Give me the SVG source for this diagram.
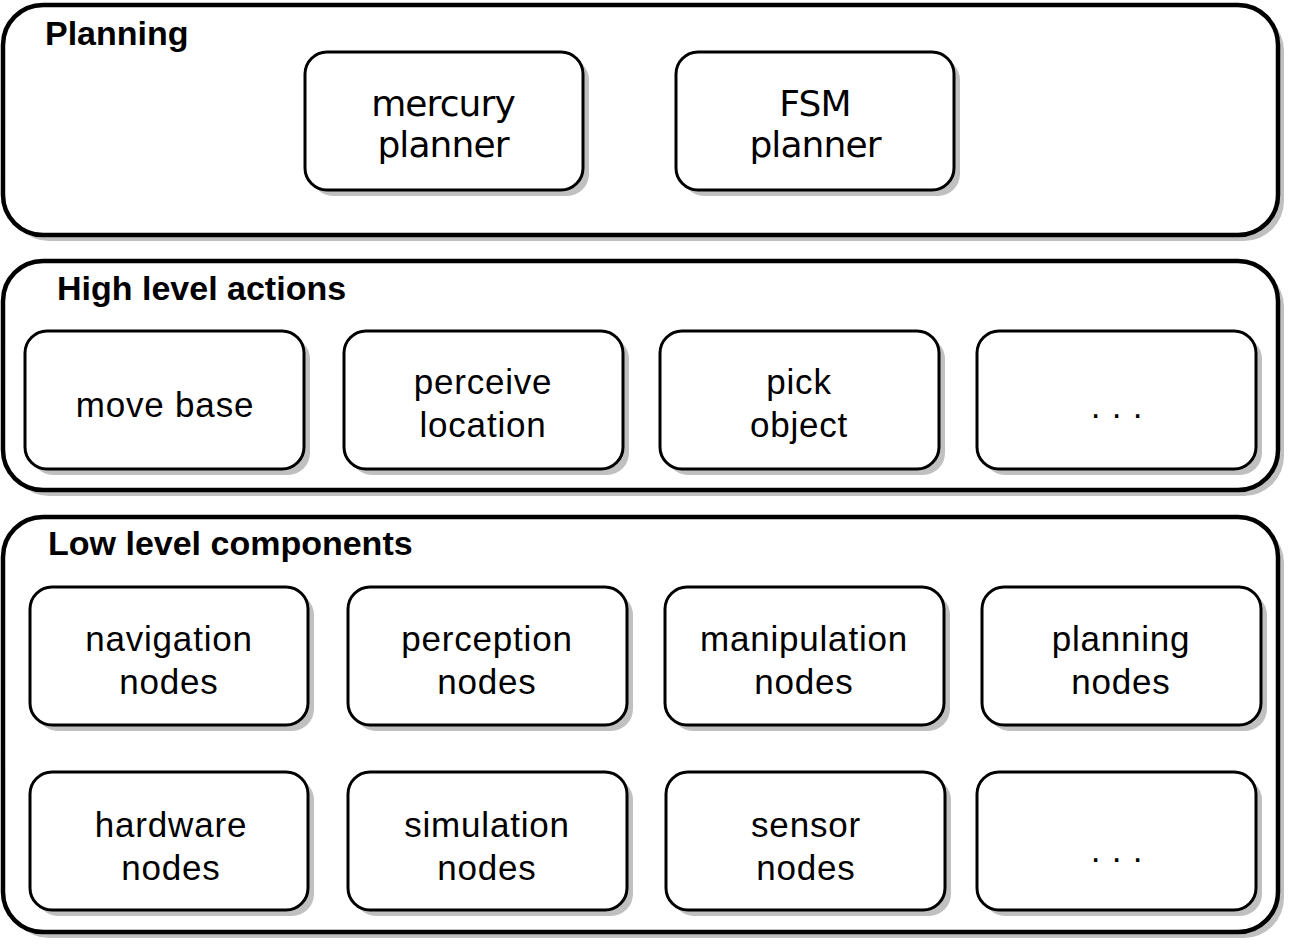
<svg xmlns="http://www.w3.org/2000/svg" width="1290" height="945" viewBox="0 0 1290 945">
<defs>
<style>
.cont{fill:#fff;stroke:#000;stroke-width:4.5}
.csh{fill:#c0c0c0}
.box{fill:#fff;stroke:#000;stroke-width:3}
.title{font-family:"Liberation Sans",Arial,sans-serif;font-weight:bold;font-size:34px;fill:#000}
.lbl{font-family:"Liberation Sans",Arial,sans-serif;font-size:35px;letter-spacing:0.8px;fill:#000;text-anchor:middle}
.dv{font-family:"DejaVu Sans",Verdana,sans-serif;font-size:36px;letter-spacing:-0.9px;fill:#000;text-anchor:middle}
</style>
</defs>
<rect width="1290" height="945" fill="#fff"/>
<g id="planning">
<rect class="csh" x="9" y="11" width="1275" height="230" rx="40"/>
<rect class="cont" x="3" y="5" width="1275" height="230" rx="40"/>
<text class="title" x="45" y="45">Planning</text>
</g>
<g id="high-level">
<rect class="csh" x="9" y="267" width="1275" height="229" rx="40"/>
<rect class="cont" x="3" y="261" width="1275" height="229" rx="40"/>
<text class="title" x="57" y="300">High level actions</text>
</g>
<g id="low-level">
<rect class="csh" x="9" y="523" width="1275" height="415" rx="40"/>
<rect class="cont" x="3" y="517" width="1275" height="415" rx="40"/>
<text class="title" x="48" y="555">Low level components</text>
</g>
<g id="mercury">
<rect class="csh" x="311" y="58" width="278" height="138" rx="22"/>
<rect class="box" x="305" y="52" width="278" height="138" rx="22"/>
<text class="dv" x="443" y="116">mercury</text>
<text class="dv" x="443" y="157">planner</text>
</g>
<g id="fsm">
<rect class="csh" x="682" y="58" width="278" height="138" rx="22"/>
<rect class="box" x="676" y="52" width="278" height="138" rx="22"/>
<text class="dv" x="815" y="116">FSM</text>
<text class="dv" x="815" y="157">planner</text>
</g>
<g id="move-base">
<rect class="csh" x="31" y="337" width="279" height="138" rx="22"/>
<rect class="box" x="25" y="331" width="279" height="138" rx="22"/>
<text class="lbl" x="165" y="417">move base</text>
</g>
<g id="perceive">
<rect class="csh" x="350" y="337" width="279" height="138" rx="22"/>
<rect class="box" x="344" y="331" width="279" height="138" rx="22"/>
<text class="lbl" x="483" y="394">perceive</text>
<text class="lbl" x="483" y="437">location</text>
</g>
<g id="pick">
<rect class="csh" x="666" y="337" width="279" height="138" rx="22"/>
<rect class="box" x="660" y="331" width="279" height="138" rx="22"/>
<text class="lbl" x="799" y="394">pick</text>
<text class="lbl" x="799" y="437">object</text>
</g>
<g id="hl-more">
<rect class="csh" x="983" y="337" width="279" height="138" rx="22"/>
<rect class="box" x="977" y="331" width="279" height="138" rx="22"/>
<text class="lbl" x="1117" y="418">. . .</text>
</g>
<g id="navigation">
<rect class="csh" x="36" y="593" width="278" height="138" rx="22"/>
<rect class="box" x="30" y="587" width="278" height="138" rx="22"/>
<text class="lbl" x="169" y="651">navigation</text>
<text class="lbl" x="169" y="694">nodes</text>
</g>
<g id="perception">
<rect class="csh" x="354" y="593" width="279" height="138" rx="22"/>
<rect class="box" x="348" y="587" width="279" height="138" rx="22"/>
<text class="lbl" x="487" y="651">perception</text>
<text class="lbl" x="487" y="694">nodes</text>
</g>
<g id="manipulation">
<rect class="csh" x="671" y="593" width="279" height="138" rx="22"/>
<rect class="box" x="665" y="587" width="279" height="138" rx="22"/>
<text class="lbl" x="804" y="651">manipulation</text>
<text class="lbl" x="804" y="694">nodes</text>
</g>
<g id="planning-nodes">
<rect class="csh" x="988" y="593" width="279" height="138" rx="22"/>
<rect class="box" x="982" y="587" width="279" height="138" rx="22"/>
<text class="lbl" x="1121" y="651">planning</text>
<text class="lbl" x="1121" y="694">nodes</text>
</g>
<g id="hardware">
<rect class="csh" x="36" y="778" width="278" height="138" rx="22"/>
<rect class="box" x="30" y="772" width="278" height="138" rx="22"/>
<text class="lbl" x="171" y="837">hardware</text>
<text class="lbl" x="171" y="880">nodes</text>
</g>
<g id="simulation">
<rect class="csh" x="354" y="778" width="279" height="138" rx="22"/>
<rect class="box" x="348" y="772" width="279" height="138" rx="22"/>
<text class="lbl" x="487" y="837">simulation</text>
<text class="lbl" x="487" y="880">nodes</text>
</g>
<g id="sensor">
<rect class="csh" x="672" y="778" width="279" height="138" rx="22"/>
<rect class="box" x="666" y="772" width="279" height="138" rx="22"/>
<text class="lbl" x="806" y="837">sensor</text>
<text class="lbl" x="806" y="880">nodes</text>
</g>
<g id="ll-more">
<rect class="csh" x="983" y="778" width="279" height="138" rx="22"/>
<rect class="box" x="977" y="772" width="279" height="138" rx="22"/>
<text class="lbl" x="1117" y="862">. . .</text>
</g>
<g id="connectors"/>
</svg>
